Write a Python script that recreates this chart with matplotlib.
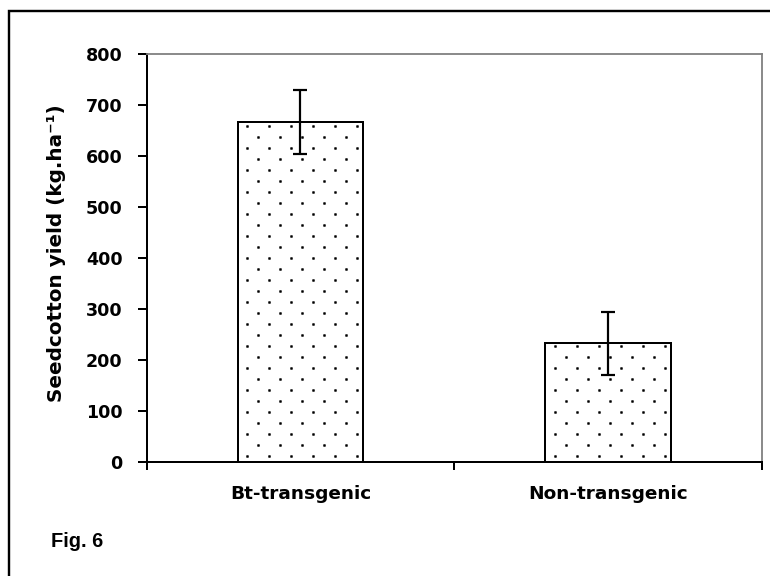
import numpy as np
import matplotlib
matplotlib.use("Agg")
import matplotlib.pyplot as plt
import matplotlib.hatch as mhatch
from matplotlib.path import Path
from matplotlib.patches import Rectangle

# ---- data ----
categories = ["Bt-transgenic", "Non-transgenic"]
yield_means = [667, 232]
yield_errors = [63, 62]
y_ticks = [0, 100, 200, 300, 400, 500, 600, 700, 800]
y_label = "Seedcotton yield (kg.ha\u207b\u00b9)"
fig_label = "Fig. 6"

DPI = 88
W, H = 770, 576


# sparse staggered dot texture for the '.' hatch
class DotLattice(mhatch.HatchPatternBase):
    cols, rows, half = 4, 8, 0.009

    def __init__(self, hatch, density):
        self.on = hatch.count('.') > 0
        self.num_vertices = self.cols * self.rows * 5 if self.on else 0

    def set_vertices_and_codes(self, vertices, codes):
        sq = np.array([[-1, -1], [1, -1], [1, 1], [-1, 1], [-1, -1]]) * self.half
        k = 0
        for r in range(self.rows):
            y = (r + 0.5) / self.rows
            for c in range(self.cols):
                x = (c + 0.25 + 0.5 * (r % 2)) / self.cols
                vertices[k:k + 5] = sq + [x, y]
                codes[k:k + 5] = [Path.MOVETO, Path.LINETO, Path.LINETO,
                                  Path.LINETO, Path.CLOSEPOLY]
                k += 5


mhatch._hatch_types[:] = [t for t in mhatch._hatch_types
                          if t is not mhatch.SmallFilledCircles] + [DotLattice]

plt.rcParams['hatch.linewidth'] = 0.6
plt.rcParams['hatch.color'] = 'black'


def px(v):
    return v * 72.0 / DPI


fig = plt.figure(figsize=((W + 0.2) / DPI, (H + 0.2) / DPI), dpi=DPI)
fig.patch.set_facecolor('white')

ax_l, ax_r, ax_t, ax_b = 146.5, 761.5, 54.3, 461.7
ax = fig.add_axes([ax_l / W, 1 - ax_b / H, (ax_r - ax_l) / W, (ax_b - ax_t) / H])

x = np.arange(len(categories)) + 0.5
ax.bar(x, yield_means, width=0.407, color='white', edgecolor='black',
       linewidth=px(2.0), hatch='.', zorder=2)
ax.errorbar(x, yield_means, yerr=yield_errors, fmt='none', ecolor='black',
            elinewidth=px(2.2), capsize=px(7), capthick=px(2.2), zorder=3)

ax.set_xlim(0, len(categories))
ax.set_ylim(0, 800)
ax.set_yticks(y_ticks)
ax.set_yticklabels([str(v) for v in y_ticks])
ax.set_xticks(np.arange(len(categories) + 1))
ax.set_xticklabels([])
ax.set_xticks(x, minor=True)
ax.set_xticklabels(categories, minor=True)

chart_font = 'DejaVu Sans'
ax.tick_params(axis='y', which='major', direction='out', length=px(9),
               width=px(2), pad=px(15), labelsize=px(17.5))
ax.tick_params(axis='x', which='major', direction='out', length=px(8),
               width=px(2))
ax.tick_params(axis='x', which='minor', length=0, pad=px(23),
               labelsize=px(18.5))
for lab in ax.get_yticklabels() + ax.get_xticklabels(minor=True):
    lab.set_fontfamily(chart_font)
    lab.set_fontweight('bold')

for s in ['left', 'bottom']:
    ax.spines[s].set_color('black')
    ax.spines[s].set_linewidth(px(2))
for s in ['top', 'right']:
    ax.spines[s].set_color('#808080')
    ax.spines[s].set_linewidth(px(1.8))

fig.text(56 / W, 1 - 253 / H, y_label, rotation=90, ha='center', va='center',
         fontsize=px(20), fontweight='bold', family=chart_font)

fig.text(51 / W, 1 - 547 / H, fig_label, ha='left', va='baseline',
         fontsize=px(20), fontweight='bold', family='Liberation Sans')

# outer frame (only left and top visible)
fig.patches.append(Rectangle((9 / W, -0.5), 2.0, (1 - 11 / H) + 0.5,
                             transform=fig.transFigure, fill=False,
                             edgecolor='black', linewidth=px(2.4)))

fig.savefig('out.png', dpi=DPI, facecolor='white')
